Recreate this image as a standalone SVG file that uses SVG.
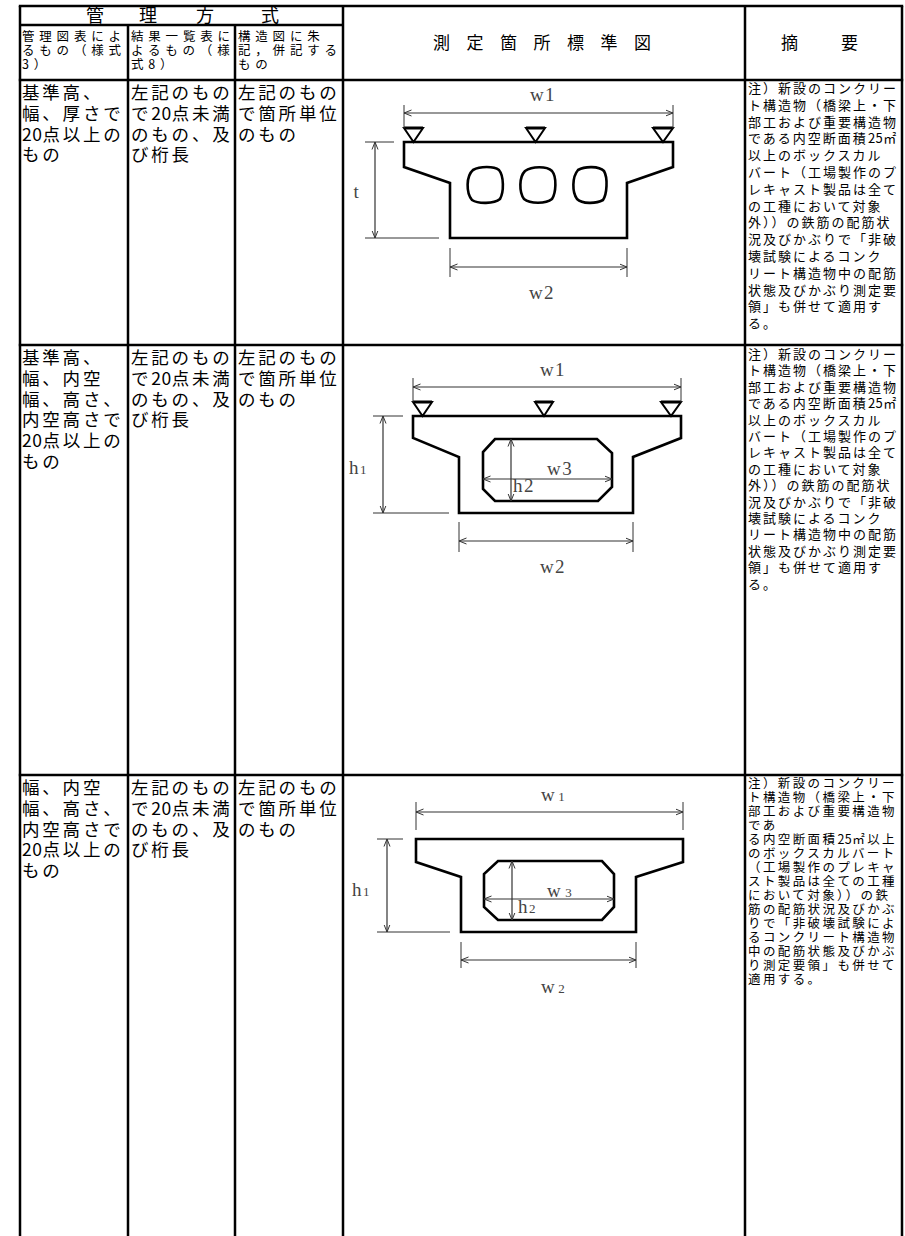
<svg xmlns="http://www.w3.org/2000/svg" width="905" height="1236" viewBox="0 0 905 1236">
<style>
.jp{font-family:"Noto Sans CJK JP","Noto Sans CJK SC",sans-serif;fill:#000}
.cell{font-size:17.5px;letter-spacing:2.8px}
.hsub{font-size:12.5px;letter-spacing:4.8px}
.note{font-size:13px;letter-spacing:2px}
.note3{font-size:12.5px;letter-spacing:2.4px}
.num{letter-spacing:0.5px}
.big{font-size:18px}
.grid line{stroke:#000;stroke-width:2.5}
.outline{fill:none;stroke:#000;stroke-width:2.6;stroke-linejoin:miter}
.tri{fill:none;stroke:#000;stroke-width:2}
.dim{stroke:#333;stroke-width:1.2;fill:none;marker-start:url(#arr);marker-end:url(#arr)}
.ext{stroke:#333;stroke-width:1;fill:none}
.lbl{font-family:"Liberation Serif",serif;font-size:19px;fill:#444;letter-spacing:1.5px}
.sub{font-size:13px}
</style>
<defs>
<marker id="arr" viewBox="0 0 8 8" refX="7.5" refY="4" markerWidth="8" markerHeight="8" markerUnits="userSpaceOnUse" orient="auto-start-reverse">
<path d="M0,1 L7.5,4 L0,7" fill="none" stroke="#333" stroke-width="1"/>
</marker>
</defs>
<rect width="905" height="1236" fill="#fff"/>

<g id="grid" class="grid">
<line x1="18.8" y1="6" x2="903.2" y2="6"/>
<line x1="20" y1="25" x2="343" y2="25"/>
<line x1="18.8" y1="80" x2="903.2" y2="80"/>
<line x1="18.8" y1="345" x2="903.2" y2="345"/>
<line x1="18.8" y1="775" x2="903.2" y2="775"/>
<line x1="20" y1="6" x2="20" y2="1236"/>
<line x1="128" y1="25" x2="128" y2="1236"/>
<line x1="235" y1="25" x2="235" y2="1236"/>
<line x1="343" y1="6" x2="343" y2="1236"/>
<line x1="745" y1="6" x2="745" y2="1236"/>
<line x1="902" y1="6" x2="902" y2="1236"/>
</g>

<g id="header">
<text class="jp big" x="86 139 196 261" y="22">管理方式</text>
<text class="jp hsub" x="22" y="40.5">管理図表によ<tspan x="22" y="54.5">るもの（様式</tspan><tspan x="22" y="68.5">3）</tspan></text>
<text class="jp hsub" x="131" y="40.5">結果一覧表に<tspan x="131" y="54.5">よるもの（様</tspan><tspan x="131" y="68.5">式8）</tspan></text>
<text class="jp hsub" x="238" y="40.5">構造図に朱<tspan x="238" y="54.5">記，併記する</tspan><tspan x="238" y="68.5">もの</tspan></text>
<text class="jp" font-size="17" x="433 466.5 500 533.5 567 600.5 634" y="49">測定箇所標準図</text>
<text class="jp" font-size="17" x="781 841" y="49">摘要</text>
</g>

<g id="row1-text">
<text class="jp cell" x="22" y="99">基準高、<tspan x="22" y="119.8">幅、厚さで</tspan><tspan x="22" y="140.6"><tspan class="num">20</tspan>点以上の</tspan><tspan x="22" y="161.4">もの</tspan></text>
<text class="jp cell" x="131" y="99">左記のもの<tspan x="131" y="119.8">で<tspan class="num">20</tspan>点未満</tspan><tspan x="131" y="140.6">のもの、及</tspan><tspan x="131" y="161.4">び桁長</tspan></text>
<text class="jp cell" x="238" y="99">左記のもの<tspan x="238" y="119.8">で箇所単位</tspan><tspan x="238" y="140.6">のもの</tspan></text>
</g>

<g id="row1-note">
<text class="jp note" x="748" y="93">注）新設のコンクリー<tspan x="748" dy="16.8">ト構造物（橋梁上・下</tspan><tspan x="748" dy="16.8">部工および重要構造物</tspan><tspan x="748" dy="16.8">である内空断面積<tspan class="num">25</tspan>㎡</tspan><tspan x="748" dy="16.8">以上のボックスカル</tspan><tspan x="748" dy="16.8">バート（工場製作のプ</tspan><tspan x="748" dy="16.8">レキャスト製品は全て</tspan><tspan x="748" dy="16.8">の工種において対象</tspan><tspan x="748" dy="16.8">外））の鉄筋の配筋状</tspan><tspan x="748" dy="16.8">況及びかぶりで「非破</tspan><tspan x="748" dy="16.8">壊試験によるコンク</tspan><tspan x="748" dy="16.8">リート構造物中の配筋</tspan><tspan x="748" dy="16.8">状態及びかぶり測定要</tspan><tspan x="748" dy="16.8">領」も併せて適用す</tspan><tspan x="748" dy="16.8">る。</tspan></text>
</g>

<g id="fig1">
<path class="outline" d="M404,142 L673,142 L673,167 L627,183 L627,238 L450,238 L450,183 L404,167 Z"/>
<path class="tri" d="M404,128 L423,128 L413.5,142 Z M526,128 L545,128 L535.5,142 Z M653,128 L673,128 L663,142 Z"/>
<path d="M404,128 L423,128 M526,128 L545,128 M653,128 L673,128" stroke="#000" stroke-width="3"/>
<path class="outline" stroke-width="2.2" d="M473,170 C480,166 494,166 499,170 C504,176 504,192 500,199 C494,204 478,204 472,200 C466,193 466,176 473,170 Z"/>
<path class="outline" stroke-width="2.2" d="M525,171 C532,166 547,166 552,171 C557,177 556,193 552,199 C546,204 530,204 524,199 C519,192 519,177 525,171 Z"/>
<path class="outline" stroke-width="2.2" d="M578,170 C585,166 599,166 604,171 C608,178 607,194 603,200 C596,204 582,204 577,199 C572,192 572,177 578,170 Z"/>
<path class="ext" d="M404,105 V128 M673,105 V128 M365,142 H394 M365,238 H439 M450,248 V277 M627,248 V277"/>
<line class="dim" x1="404" y1="113" x2="673" y2="113"/>
<line class="dim" x1="375" y1="142" x2="375" y2="238"/>
<line class="dim" x1="450" y1="267" x2="627" y2="267"/>
<text class="lbl" x="543" y="101" text-anchor="middle">w1</text>
<text class="lbl" x="357" y="198" text-anchor="middle" font-size="20">t</text>
<text class="lbl" x="542" y="299" text-anchor="middle">w2</text>
</g>

<g id="row2-text">
<text class="jp cell" x="22" y="364">基準高、<tspan x="22" dy="20.8">幅、内空</tspan><tspan x="22" dy="20.8">幅、高さ、</tspan><tspan x="22" dy="20.8">内空高さで</tspan><tspan x="22" dy="20.8"><tspan class="num">20</tspan>点以上の</tspan><tspan x="22" dy="20.8">もの</tspan></text>
<text class="jp cell" x="131" y="364">左記のもの<tspan x="131" dy="20.8">で<tspan class="num">20</tspan>点未満</tspan><tspan x="131" dy="20.8">のもの、及</tspan><tspan x="131" dy="20.8">び桁長</tspan></text>
<text class="jp cell" x="238" y="364">左記のもの<tspan x="238" dy="20.8">で箇所単位</tspan><tspan x="238" dy="20.8">のもの</tspan></text>
</g>

<g id="row2-note">
<text class="jp note" x="748" y="359">注）新設のコンクリー<tspan x="748" dy="16.4">ト構造物（橋梁上・下</tspan><tspan x="748" dy="16.4">部工および重要構造物</tspan><tspan x="748" dy="16.4">である内空断面積<tspan class="num">25</tspan>㎡</tspan><tspan x="748" dy="16.4">以上のボックスカル</tspan><tspan x="748" dy="16.4">バート（工場製作のプ</tspan><tspan x="748" dy="16.4">レキャスト製品は全て</tspan><tspan x="748" dy="16.4">の工種において対象</tspan><tspan x="748" dy="16.4">外））の鉄筋の配筋状</tspan><tspan x="748" dy="16.4">況及びかぶりで「非破</tspan><tspan x="748" dy="16.4">壊試験によるコンク</tspan><tspan x="748" dy="16.4">リート構造物中の配筋</tspan><tspan x="748" dy="16.4">状態及びかぶり測定要</tspan><tspan x="748" dy="16.4">領」も併せて適用す</tspan><tspan x="748" dy="16.4">る。</tspan></text>
</g>

<g id="fig2">
<path class="outline" d="M413,416 L681,416 L681,438 L633,457 L633,513 L459,513 L459,457 L413,438 Z"/>
<path class="outline" d="M495,439 L597,439 L612,453 L612,487 L598,501 L495,501 L483,489 L483,452 Z"/>
<path class="tri" d="M413,402 L432,402 L422.5,416 Z M535,402 L553,402 L544,416 Z M661,402 L681,402 L671,416 Z"/>
<path d="M413,402 L432,402 M535,402 L553,402 M661,402 L681,402" stroke="#000" stroke-width="3"/>
<path class="ext" d="M413,378 V402 M681,378 V402 M373,416 H403 M373,513 H449 M459,522 V552 M633,522 V552"/>
<line class="dim" x1="413" y1="387" x2="681" y2="387"/>
<line class="dim" x1="383" y1="416" x2="383" y2="513"/>
<line class="dim" x1="511" y1="439" x2="511" y2="501"/>
<line class="dim" x1="483" y1="479" x2="612" y2="479"/>
<line class="dim" x1="459" y1="541" x2="633" y2="541"/>
<text class="lbl" x="553" y="376" text-anchor="middle">w1</text>
<text class="lbl" x="349" y="474" font-size="20">h<tspan class="sub">1</tspan></text>
<text class="lbl" x="513" y="492">h2</text>
<text class="lbl" x="547" y="475">w3</text>
<text class="lbl" x="553" y="573" text-anchor="middle">w2</text>
</g>

<g id="row3-text">
<text class="jp cell" x="22" y="794">幅、内空<tspan x="22" dy="20.8">幅、高さ、</tspan><tspan x="22" dy="20.8">内空高さで</tspan><tspan x="22" dy="20.8"><tspan class="num">20</tspan>点以上の</tspan><tspan x="22" dy="20.8">もの</tspan></text>
<text class="jp cell" x="131" y="794">左記のもの<tspan x="131" dy="20.8">で<tspan class="num">20</tspan>点未満</tspan><tspan x="131" dy="20.8">のもの、及</tspan><tspan x="131" dy="20.8">び桁長</tspan></text>
<text class="jp cell" x="238" y="794">左記のもの<tspan x="238" dy="20.8">で箇所単位</tspan><tspan x="238" dy="20.8">のもの</tspan></text>
</g>

<g id="row3-note">
<text class="jp note3" x="748" y="788">注）新設のコンクリー<tspan x="748" dy="14">ト構造物（橋梁上・下</tspan><tspan x="748" dy="14">部工および重要構造物</tspan><tspan x="748" dy="14">であ</tspan><tspan x="748" dy="14">る内空断面積<tspan class="num">25</tspan>㎡以上</tspan><tspan x="748" dy="14">のボックスカルバート</tspan><tspan x="748" dy="14">（工場製作のプレキャ</tspan><tspan x="748" dy="14">スト製品は全ての工種</tspan><tspan x="748" dy="14">において対象））の鉄</tspan><tspan x="748" dy="14">筋の配筋状況及びかぶ</tspan><tspan x="748" dy="14">りで「非破壊試験によ</tspan><tspan x="748" dy="14">るコンクリート構造物</tspan><tspan x="748" dy="14">中の配筋状態及びかぶ</tspan><tspan x="748" dy="14">り測定要領」も併せて</tspan><tspan x="748" dy="14">適用する。</tspan></text>
</g>

<g id="fig3">
<path class="outline" d="M416,839 L683,839 L683,862 L636,877 L636,932 L461,932 L461,877 L416,862 Z"/>
<path class="outline" d="M498,861 L602,861 L614,874 L614,907 L602,920 L498,920 L484,907 L484,874 Z"/>
<path class="ext" d="M416,802 V830 M683,802 V830 M377,839 H403 M377,932 H450 M461,942 V968 M636,942 V968"/>
<line class="dim" x1="416" y1="812" x2="683" y2="812"/>
<line class="dim" x1="387" y1="839" x2="387" y2="932"/>
<line class="dim" x1="512" y1="861" x2="512" y2="920"/>
<line class="dim" x1="484" y1="899" x2="614" y2="899"/>
<line class="dim" x1="461" y1="960" x2="636" y2="960"/>
<text class="lbl" x="541" y="801">w<tspan class="sub" dx="2">1</tspan></text>
<text class="lbl" x="352" y="896" font-size="20">h<tspan class="sub">1</tspan></text>
<text class="lbl" x="518" y="913">h<tspan class="sub">2</tspan></text>
<text class="lbl" x="547" y="897">w<tspan class="sub" dx="3">3</tspan></text>
<text class="lbl" x="541" y="993">w<tspan class="sub" dx="2">2</tspan></text>
</g>
</svg>
